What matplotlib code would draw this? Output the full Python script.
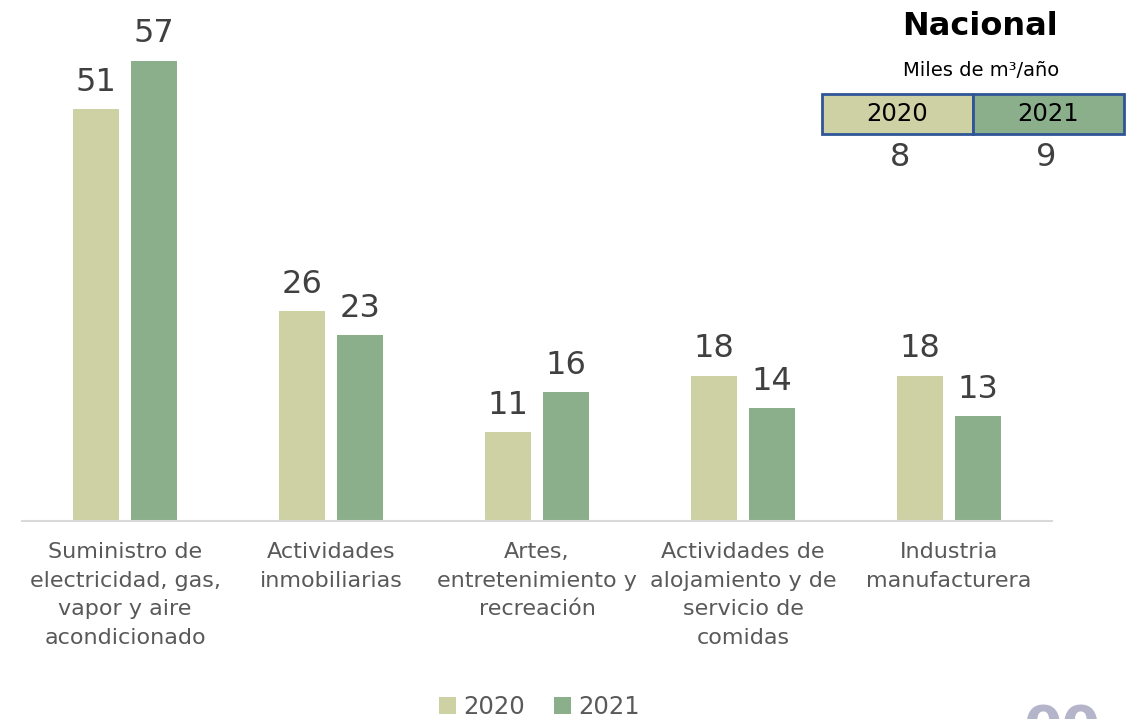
import matplotlib.pyplot as plt
from matplotlib.patches import Rectangle
import numpy as np

# datos (miles de m3/año)
categorias = ['Suministro de\nelectricidad, gas,\nvapor y aire\nacondicionado',
              'Actividades\ninmobiliarias',
              'Artes,\nentretenimiento y\nrecreación',
              'Actividades de\nalojamiento y de\nservicio de\ncomidas',
              'Industria\nmanufacturera']
valores_2020 = [51, 26, 11, 18, 18]
valores_2021 = [57, 23, 16, 14, 13]
anios = ['2020', '2021']
nacional = [8, 9]

color_2020 = '#CDD1A4'
color_2021 = '#8AAF8A'
gris = '#404040'

plt.rcParams['font.family'] = ['DejaVu Sans']

fig = plt.figure(figsize=(11.4, 7.19), dpi=100)
ax = fig.add_axes([0.0193, 0.2754, 0.9035, 0.6966])

x = np.arange(len(categorias))
w = 0.223
off = 0.142
b1 = ax.bar(x - off, valores_2020, w, color=color_2020, label=anios[0])
b2 = ax.bar(x + off, valores_2021, w, color=color_2021, label=anios[1])

for bars in (b1, b2):
    for r in bars:
        ax.annotate(str(int(r.get_height())), (r.get_x() + r.get_width() / 2, r.get_height()),
                    xytext=(0, 8), textcoords='offset points', ha='center', va='bottom',
                    fontsize=23, color=gris)

ax.set_xlim(-0.5, len(categorias) - 0.5)
ax.set_ylim(0, 62)
ax.set_xticks(x)
ax.set_xticklabels(categorias, fontsize=16, color='#595959', linespacing=1.55)
ax.tick_params(axis='x', length=0, pad=15)
ax.set_yticks([])
for s in ['top', 'right', 'left']:
    ax.spines[s].set_visible(False)
ax.spines['bottom'].set_color('#D9D9D9')
ax.spines['bottom'].set_linewidth(1.5)

leg = fig.legend(handles=[b1, b2], labels=anios, loc='center', bbox_to_anchor=(0.473, 0.016),
                 ncol=2, frameon=False, fontsize=17.5, handlelength=0.7, handleheight=0.7,
                 handletextpad=0.3, columnspacing=1.2, labelcolor='#595959')

# cuadro nacional
fig.text(0.86, 0.963, 'Nacional', ha='center', va='center', fontsize=23, fontweight='bold', color='black')
fig.text(0.8605, 0.902, 'Miles de m³/año', ha='center', va='center', fontsize=14, color='black')
caja_x = [822 / 1140, 973 / 1140]
caja_w = 151 / 1140
caja_y = (719 - 134) / 719
caja_h = 40 / 719
for i, (cx, c) in enumerate(zip(caja_x, [color_2020, color_2021])):
    fig.patches.append(Rectangle((cx, caja_y), caja_w, caja_h, transform=fig.transFigure,
                                 facecolor=c, edgecolor='#2F5597', linewidth=2))
    fig.text(cx + caja_w / 2, caja_y + caja_h / 2, anios[i], ha='center', va='center',
             fontsize=17.5, color='black')
    fig.text(cx + caja_w / 2 + (0.002 if i == 0 else -0.002), (719 - 158) / 719, str(nacional[i]),
             ha='center', va='center', fontsize=23, color=gris)

# numero de pagina (cortado en el borde, como en el original)
fig.text(1062 / 1140, (719 - 703) / 719, '00', ha='center', va='top', fontsize=40,
         fontweight='bold', color='#B4B5CA')

fig.savefig('out.png', dpi=100)
